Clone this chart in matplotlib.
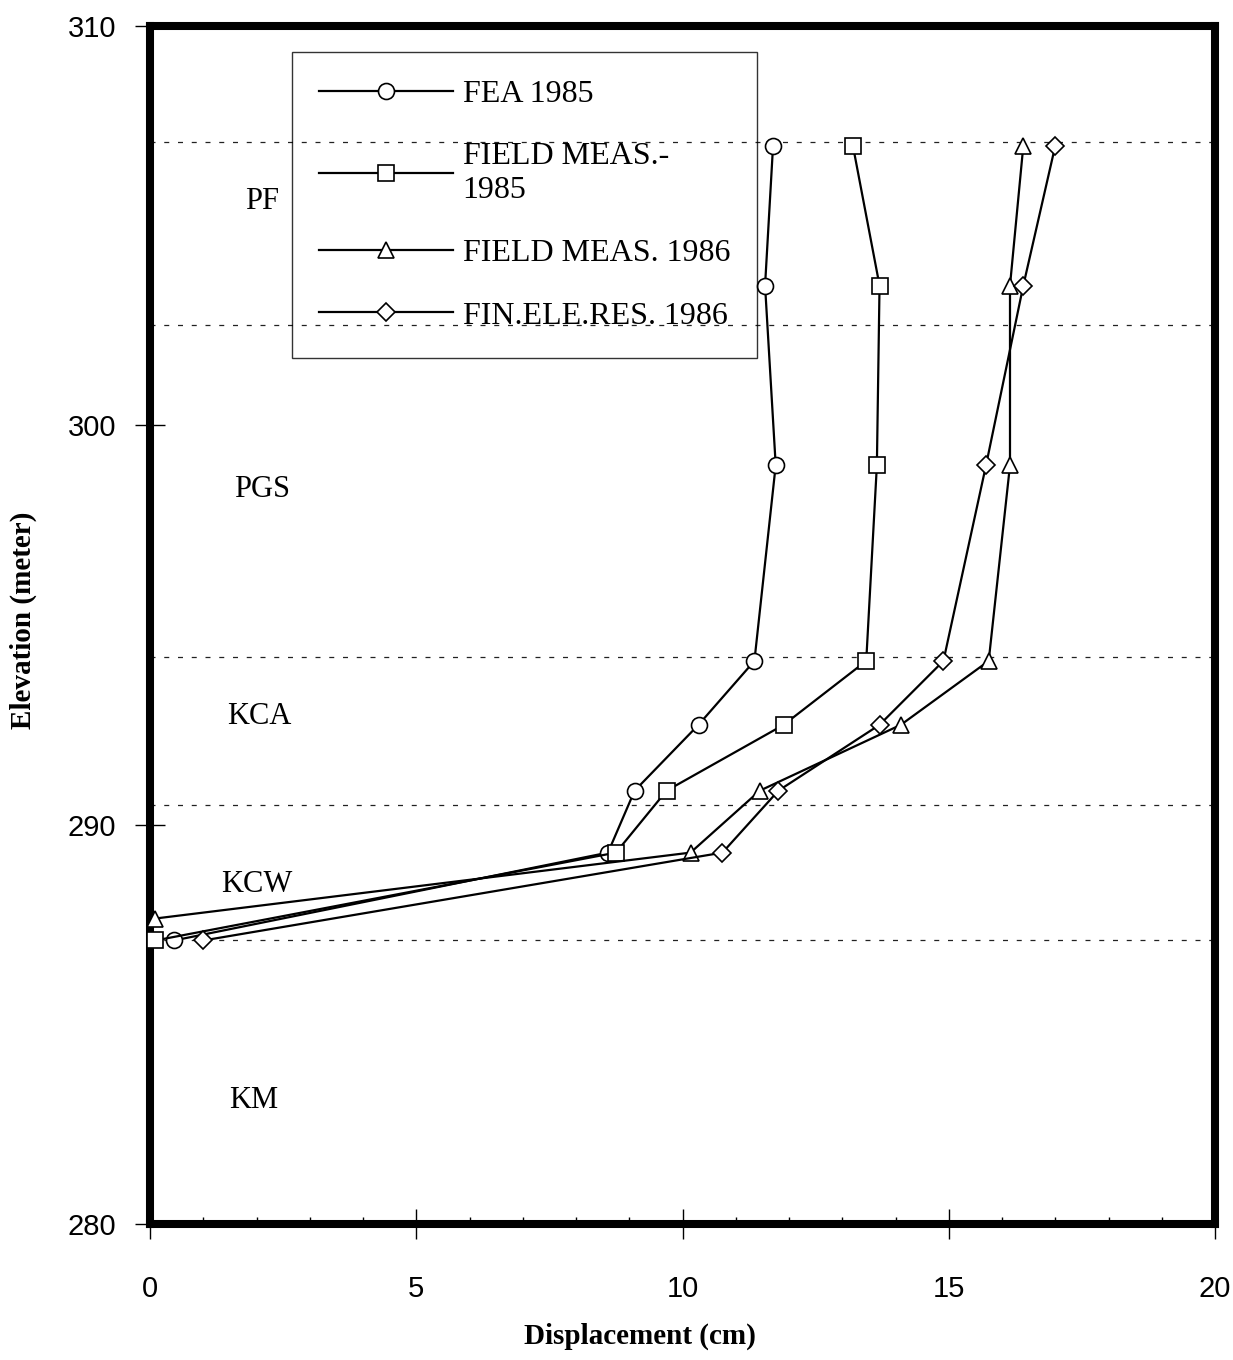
import matplotlib
matplotlib.use("Agg")
import matplotlib.pyplot as plt
from matplotlib.ticker import MultipleLocator

# elevation (m) of each reading, top to bottom
elev = [307.0, 303.5, 299.0, 294.1, 292.5, 290.85, 289.3, 287.1]
elev_fm86 = [307.0, 303.5, 299.0, 294.1, 292.5, 290.85, 289.3, 287.65]

# displacement (cm)
fea_1985 = [11.7, 11.55, 11.75, 11.35, 10.3, 9.1, 8.6, 0.45]
field_1985 = [13.2, 13.7, 13.65, 13.45, 11.9, 9.7, 8.75, 0.1]
field_1986 = [16.4, 16.15, 16.15, 15.75, 14.1, 11.45, 10.15, 0.1]
fin_1986 = [17.0, 16.4, 15.7, 14.9, 13.7, 11.8, 10.75, 1.0]

# layer boundaries and layer names
boundaries = [307.1, 302.5, 294.2, 290.5, 287.1]
layers = ["PF", "PGS", "KCA", "KCW", "KM"]
layer_x = [2.1, 2.1, 2.05, 2.0, 1.95]
layer_elev = [305.6, 298.4, 292.7, 288.5, 283.1]

serif = "Liberation Serif"
sans = "Liberation Sans"

fig = plt.figure(figsize=(12.33, 13.6), dpi=100)
ax = fig.add_axes([0.1217, 0.1000, 0.8637, 0.8809])

for b in boundaries:
    ax.axhline(b, color="#222222", lw=0.9, ls=(0, (4, 7)), zorder=1)

common = dict(color="black", lw=1.6, mfc="white", mec="black", mew=1.2, clip_on=False, zorder=3)
ax.plot(fea_1985, elev, marker="o", ms=11.5, label="FEA 1985", **common)
ax.plot(field_1985, elev, marker="s", ms=12, label="FIELD MEAS.-\n1985", **common)
ax.plot(field_1986, elev_fm86, marker="^", ms=12, label="FIELD MEAS. 1986", **common)
ax.plot(fin_1986, elev, marker="D", ms=8.7, label="FIN.ELE.RES. 1986", **common)

for name, x, y in zip(layers, layer_x, layer_elev):
    ax.text(x, y, name, ha="center", va="center", fontsize=22, family=serif)

ax.set_xlim(0, 20)
ax.set_ylim(280, 310)
ax.xaxis.set_major_locator(MultipleLocator(5))
ax.xaxis.set_minor_locator(MultipleLocator(1))
ax.yaxis.set_major_locator(MultipleLocator(10))
ax.tick_params(axis="x", which="major", direction="inout", length=21, width=1.0, pad=26,
               labelsize=21, labelfontfamily=sans)
ax.tick_params(axis="x", which="minor", direction="in", length=5, width=1.0)
ax.tick_params(axis="y", which="major", direction="inout", length=21, width=1.0, pad=14,
               labelsize=21, labelfontfamily=sans)

for s in ax.spines.values():
    s.set_linewidth(5.8)

ax.set_xlabel("Displacement (cm)", fontsize=21, fontweight="bold", family=serif)
ax.set_ylabel("Elevation (meter)", fontsize=21, fontweight="bold", family=serif)
ax.xaxis.set_label_coords(0.46, -0.082)
ax.yaxis.set_label_coords(-0.106, 0.504)

leg = ax.legend(loc="upper left", bbox_to_anchor=(0.133, 0.978), borderaxespad=0,
                prop={"family": serif, "size": 23}, handlelength=4.2, handletextpad=0.3,
                labelspacing=1.05, borderpad=0.85, fancybox=False, frameon=True)
leg.get_frame().set_facecolor("none")
leg.get_frame().set_edgecolor("black")
leg.get_frame().set_linewidth(1.0)

fig.savefig("out.png", dpi=100)
